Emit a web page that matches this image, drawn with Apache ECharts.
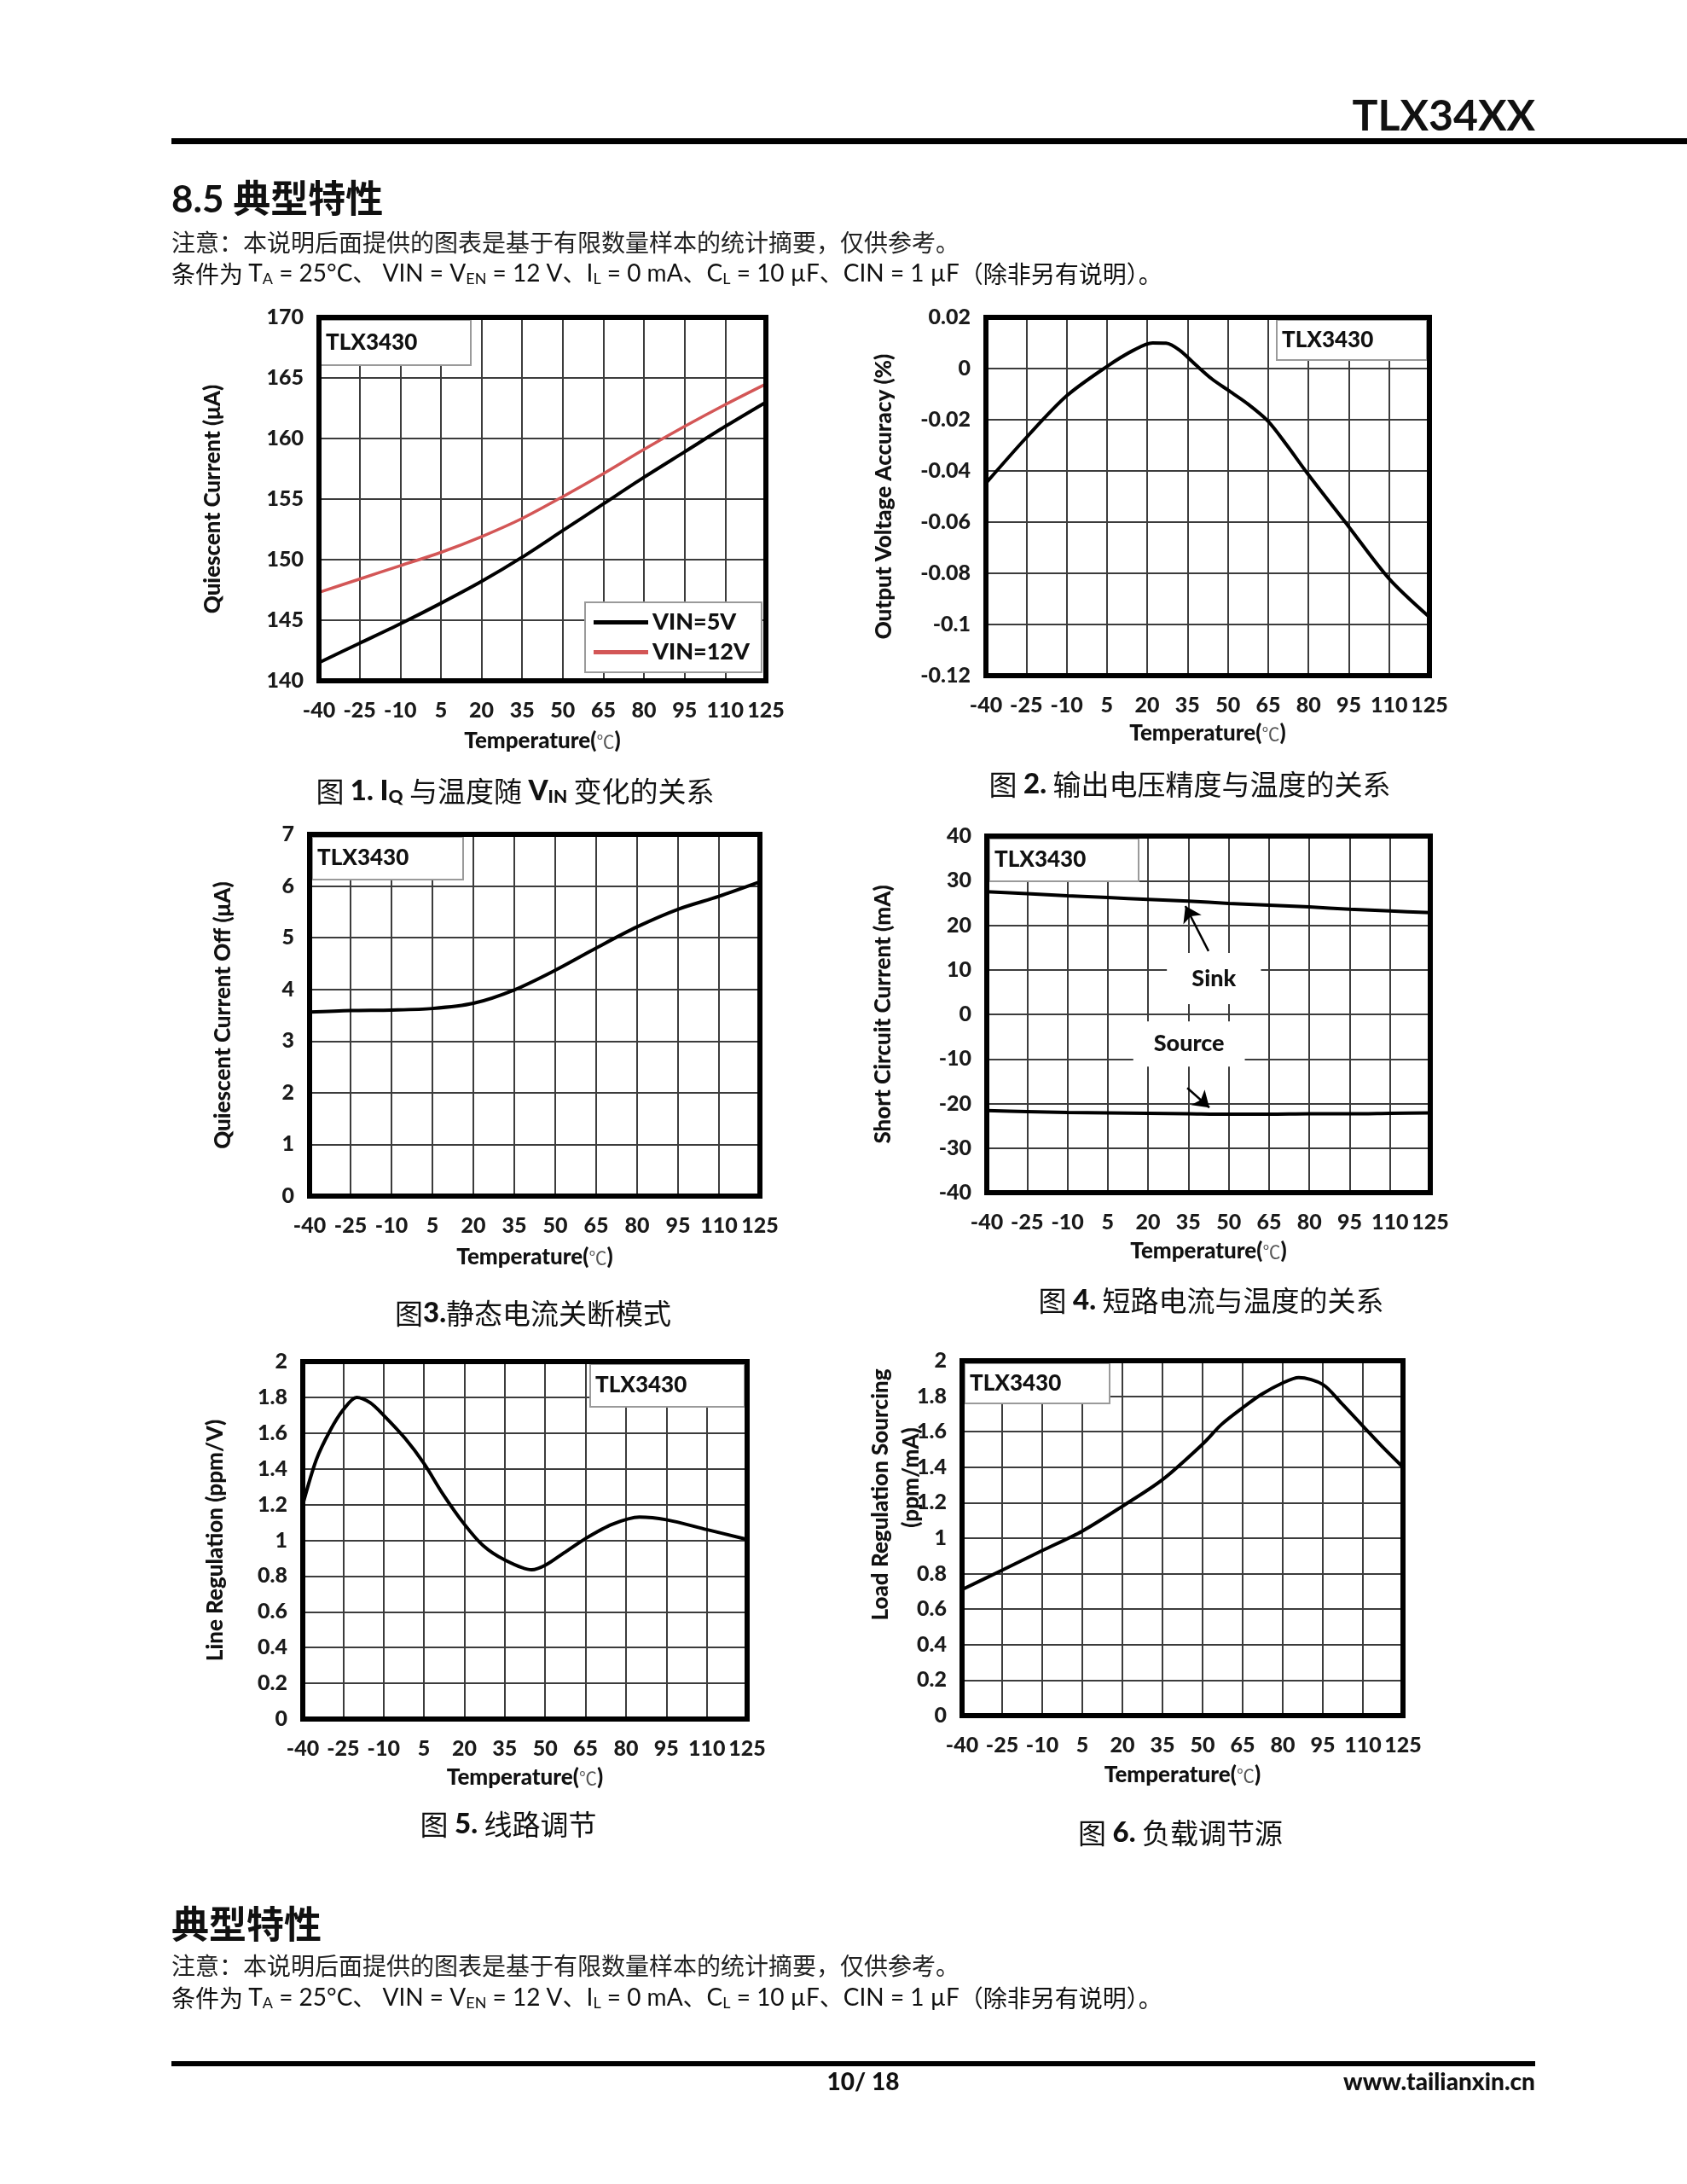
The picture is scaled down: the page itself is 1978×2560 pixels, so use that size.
<!DOCTYPE html>
<html>
<head>
<meta charset="utf-8">
<script src="https://cdn.jsdelivr.net/npm/echarts@6/dist/echarts.min.js"></script>
<style>
html,body{margin:0;padding:0;background:#fff;}
#main{width:1978px;height:2560px;}
</style>
</head>
<body>
<div id="main"></div>
<script>
// ---------- data ----------
const temps = [-40, -25, -10, 5, 20, 35, 50, 65, 80, 95, 110, 125];

// Fig 1: quiescent current (uA)
const iqVin5 = [141.5, 143.1, 144.7, 146.4, 148.2, 150.2, 152.4, 154.6, 156.8, 158.9, 161.0, 163.0];
const iqVin12 = [147.3, 148.4, 149.5, 150.6, 151.9, 153.4, 155.2, 157.1, 159.1, 161.0, 162.8, 164.5];

// Fig 2: output voltage accuracy (%)
const accTemps = [-40, -25, -10, 5, 15, 22, 27, 32, 38, 44, 50, 57, 65, 72, 80, 95, 110, 125];
const accValues = [-0.0448, -0.027, -0.0107, 0.0008, 0.0072, 0.0100, 0.0099, 0.0072, 0.0015, -0.0040, -0.0084, -0.0135, -0.0206, -0.0300, -0.0415, -0.0618, -0.0821, -0.0971];

// Fig 3: quiescent current off (uA)
const iqOff = [3.56, 3.59, 3.60, 3.63, 3.73, 3.99, 4.37, 4.80, 5.21, 5.55, 5.80, 6.08];

// Fig 4: short circuit current (mA)
const sinkCurrent = [27.5, 27.1, 26.6, 26.2, 25.8, 25.4, 24.9, 24.5, 24.1, 23.6, 23.2, 22.8];
const sourceCurrent = [-21.6, -21.8, -22.0, -22.1, -22.2, -22.3, -22.4, -22.4, -22.3, -22.3, -22.2, -22.1];

// Fig 5: line regulation (ppm/V)
const lineTemps = [-40, -35, -30, -25, -20, -15, -10, -2, 5, 12, 20, 27, 35, 45, 50, 57, 65, 75, 85, 95, 110, 125];
const lineReg = [1.20, 1.45, 1.61, 1.73, 1.80, 1.77, 1.70, 1.57, 1.43, 1.26, 1.09, 0.97, 0.89, 0.835, 0.86, 0.93, 1.01, 1.09, 1.13, 1.115, 1.06, 1.005];

// Fig 6: load regulation sourcing (ppm/mA)
const loadTemps = [-40, -25, -10, 5, 20, 35, 50, 57, 65, 72, 80, 86, 95, 102, 110, 117, 125];
const loadReg = [0.71, 0.82, 0.93, 1.04, 1.18, 1.33, 1.53, 1.64, 1.735, 1.81, 1.875, 1.905, 1.866, 1.76, 1.632, 1.52, 1.40];

// annotations fig 4 (data coords)
const sinkBox = [[27, 13.8], [62, 2.3]];
const sourceBox = [[14.5, -1.6], [56, -11.7]];
const sinkArrow = [[42.5, 14.2], [33.9, 24.3]];
const sourceArrow = [[34.6, -16.5], [42.8, -20.9]];

// ---------- helpers ----------
const pairs = (xs, ys) => xs.map((x, i) => [x, ys[i]]);
const LAT = 'Lato, "Noto Sans CJK SC", sans-serif';
const CJK = '"Noto Sans CJK SC", Lato, sans-serif';
const HEAVY = 900;

const grids = [
  {left: 374, top: 372, width: 524, height: 426},
  {left: 1156, top: 372, width: 520, height: 420},
  {left: 363, top: 978, width: 528, height: 424},
  {left: 1157, top: 980, width: 520, height: 418},
  {left: 355, top: 1596, width: 521, height: 419},
  {left: 1128, top: 1595, width: 517, height: 416}
];

const labelStyle = {fontFamily: LAT, fontWeight: HEAVY, fontSize: 25, color: '#1a1a1a'};
const splitStyle = {show: true, lineStyle: {color: '#3c3c3c', width: 2}};

function fmtNum(v) {
  const r = +(+v).toFixed(2);
  return (r === 0 ? 0 : r).toString();
}

const xNameGaps = [58, 55, 59, 56, 56, 57];
const xAxes = grids.map((g, i) => ({
  type: 'value', gridIndex: i, min: -40, max: 125, interval: 15,
  axisLine: {show: false}, axisTick: {show: false},
  axisLabel: Object.assign({margin: 22}, labelStyle),
  splitLine: splitStyle,
  name: '{b|Temperature(}{c|℃}{b|)}', nameLocation: 'middle', nameGap: xNameGaps[i],
  nameTextStyle: {rich: {
    b: {fontFamily: LAT, fontWeight: HEAVY, fontSize: 26, color: '#111'},
    c: {fontFamily: CJK, fontWeight: 'normal', fontSize: 21, color: '#555'}
  }}
}));

const yCfg = [
  {min: 140, max: 170, interval: 5, name: 'Quiescent Current (μA)', gap: 111},
  {min: -0.12, max: 0.02, interval: 0.02, name: 'Output Voltage Accuracy (%)', gap: 106},
  {min: 0, max: 7, interval: 1, name: 'Quiescent Current Off (μA)', gap: 88},
  {min: -40, max: 40, interval: 10, name: 'Short Circuit Current (mA)', gap: 108},
  {min: 0, max: 2, interval: 0.2, name: 'Line Regulation (ppm/V)', gap: 89},
  {min: 0, max: 2, interval: 0.2, name: '', gap: 90}
];
const yAxes = yCfg.map((c, i) => ({
  type: 'value', gridIndex: i, min: c.min, max: c.max, interval: c.interval,
  axisLine: {show: false}, axisTick: {show: false},
  axisLabel: Object.assign({margin: 18, formatter: fmtNum}, labelStyle),
  splitLine: splitStyle,
  name: c.name, nameLocation: 'middle', nameGap: c.gap, nameRotate: 90,
  nameTextStyle: {fontFamily: LAT, fontWeight: HEAVY, fontSize: 26, color: '#111'}
}));

function lineSeries(name, idx, data, color, width) {
  return {
    name: name, type: 'line', xAxisIndex: idx, yAxisIndex: idx, data: data,
    smooth: 0.3, showSymbol: false, symbol: 'none', animation: false, silent: true,
    lineStyle: {color: color, width: width}, itemStyle: {color: color}, z: 5
  };
}

const series = [
  lineSeries('VIN=5V', 0, pairs(temps, iqVin5), '#000', 4),
  lineSeries('VIN=12V', 0, pairs(temps, iqVin12), '#d35656', 3.5),
  lineSeries('acc', 1, pairs(accTemps, accValues), '#000', 4),
  lineSeries('off', 2, pairs(temps, iqOff), '#000', 4),
  Object.assign(lineSeries('sink', 3, pairs(temps, sinkCurrent), '#000', 4), {
    markArea: {
      silent: true,
      itemStyle: {color: '#fff'},
      label: {show: true, position: 'inside', fontFamily: LAT, fontWeight: HEAVY, fontSize: 27, color: '#111'},
      data: [
        [{name: 'Sink', coord: sinkBox[0]}, {coord: sinkBox[1]}],
        [{name: 'Source', coord: sourceBox[0]}, {coord: sourceBox[1]}]
      ]
    },
    markLine: {
      silent: true, animation: false,
      symbol: ['none', 'arrow'], symbolSize: 18,
      label: {show: false},
      lineStyle: {color: '#000', width: 2.5, type: 'solid'},
      data: [
        [{coord: sinkArrow[0]}, {coord: sinkArrow[1]}],
        [{coord: sourceArrow[0]}, {coord: sourceArrow[1]}]
      ]
    }
  }),
  lineSeries('source', 3, pairs(temps, sourceCurrent), '#000', 4),
  lineSeries('line', 4, pairs(lineTemps, lineReg), '#000', 4),
  lineSeries('load', 5, pairs(loadTemps, loadReg), '#000', 4)
];

// ---------- graphics ----------
const graphic = [];
function txt(x, y, text, style, extra) {
  graphic.push(Object.assign({type: 'text', x: x, y: y, z: 60,
    style: Object.assign({text: text, fill: '#111'}, style)}, extra || {}));
}
function rect(x, y, w, h, style, z) {
  graphic.push({type: 'rect', z: z, shape: {x: x, y: y, width: w, height: h}, style: style});
}

// header
txt(1800, 137, 'TLX34XX', {font: 'bold 50px ' + LAT, align: 'right', verticalAlign: 'middle'});
rect(201, 162, 1777, 7, {fill: '#000'}, 60);
txt(201, 235, '8.5 典型特性', {font: 'bold 44px ' + LAT, align: 'left', verticalAlign: 'middle'});

const note1 = '注意：本说明后面提供的图表是基于有限数量样本的统计摘要，仅供参考。';
const note2 = '{c|条件为 }{l|T}{s|A}{l| = 25°C、 VIN = V}{s|EN}{l| = 12 V、I}{s|L}{l| = 0 mA、C}{s|L}{l| = 10 µF、CIN = 1 µF}{c|（除非另有说明）。}';
const noteRich = {
  c: {fontFamily: CJK, fontSize: 28, color: '#222'},
  l: {fontFamily: LAT, fontSize: 28, color: '#222'},
  s: {fontFamily: LAT, fontSize: 18, color: '#222', verticalAlign: 'bottom', padding: [13, 0, 0, 0]}
};
function notes(y1, y2) {
  txt(201, y1, note1, {font: '28px ' + CJK, fill: '#222', align: 'left', verticalAlign: 'middle'});
  txt(201, y2, note2, {rich: noteRich, align: 'left', verticalAlign: 'middle'});
}
notes(284, 321);

// frames and TLX boxes
grids.forEach(g => {
  rect(g.left, g.top, g.width, g.height, {fill: 'none', stroke: '#000', lineWidth: 6}, 100);
});
const tlxBoxes = [
  [376, 375, 176, 53], [1497, 375, 176, 47], [366, 981, 177, 50],
  [1160, 983, 175, 50], [692, 1599, 181, 50], [1131, 1598, 170, 47]
];
tlxBoxes.forEach(b => {
  rect(b[0], b[1], b[2], b[3], {fill: '#fff', stroke: '#9a9a9a', lineWidth: 2}, 50);
  txt(b[0] + 6, b[1] + b[3] / 2, 'TLX3430', {font: HEAVY + ' 26px ' + LAT, align: 'left', verticalAlign: 'middle'});
});

// Fig 6 two-line y title
txt(1033, 1752, 'Load Regulation Sourcing', {font: HEAVY + ' 26px ' + LAT, align: 'center', verticalAlign: 'middle'}, {rotation: Math.PI / 2});
txt(1069, 1732, '(ppm/mA)', {font: HEAVY + ' 26px ' + LAT, align: 'center', verticalAlign: 'middle'}, {rotation: Math.PI / 2});

// captions
const capRich = {
  c: {fontFamily: CJK, fontSize: 33, color: '#222'},
  b: {fontFamily: LAT, fontWeight: HEAVY, fontSize: 33, color: '#111'},
  s: {fontFamily: LAT, fontWeight: HEAVY, fontSize: 21, color: '#111', verticalAlign: 'bottom', padding: [15, 0, 0, 0]}
};
function cap(x, y, text) { txt(x, y, text, {rich: capRich, align: 'center', verticalAlign: 'middle'}); }
cap(604, 927, '{c|图 }{b|1. I}{s|Q}{c| 与温度随 }{b|V}{s|IN}{c| 变化的关系}');
cap(1395, 919, '{c|图 }{b|2.}{c| 输出电压精度与温度的关系}');
cap(625, 1539, '{c|图}{b|3.}{c|静态电流关断模式}');
cap(1420, 1524, '{c|图 }{b|4.}{c| 短路电流与温度的关系}');
cap(596, 2138, '{c|图 }{b|5.}{c| 线路调节}');
cap(1384, 2148, '{c|图 }{b|6.}{c| 负载调节源}');

// bottom section
txt(201, 2255, '典型特性', {font: 'bold 44px ' + CJK, align: 'left', verticalAlign: 'middle'});
notes(2304, 2342);
rect(201, 2416, 1599, 6, {fill: '#000'}, 60);
txt(1012, 2441, '10/ 18', {font: HEAVY + ' 28px ' + LAT, align: 'center', verticalAlign: 'middle'});
txt(1800, 2441, 'www.tailianxin.cn', {font: HEAVY + ' 28px ' + LAT, align: 'right', verticalAlign: 'middle'});

const option = {
  backgroundColor: '#fff',
  animation: false,
  grid: grids.map(g => Object.assign({containLabel: false, show: false}, g)),
  xAxis: xAxes,
  yAxis: yAxes,
  legend: {
    data: ['VIN=5V', 'VIN=12V'], left: 686, top: 706, orient: 'vertical',
    backgroundColor: '#fff', borderColor: '#9a9a9a', borderWidth: 2, borderRadius: 0,
    padding: [10, 14, 10, 10], itemGap: 8, itemWidth: 64, itemHeight: 5, icon: 'rect',
    textStyle: {fontFamily: LAT, fontWeight: HEAVY, fontSize: 27, color: '#111'},
    selectedMode: false, z: 20
  },
  series: series,
  graphic: graphic
};

const chart = echarts.init(document.getElementById('main'), null, {renderer: 'canvas'});
chart.setOption(option);
</script>
</body>
</html>
